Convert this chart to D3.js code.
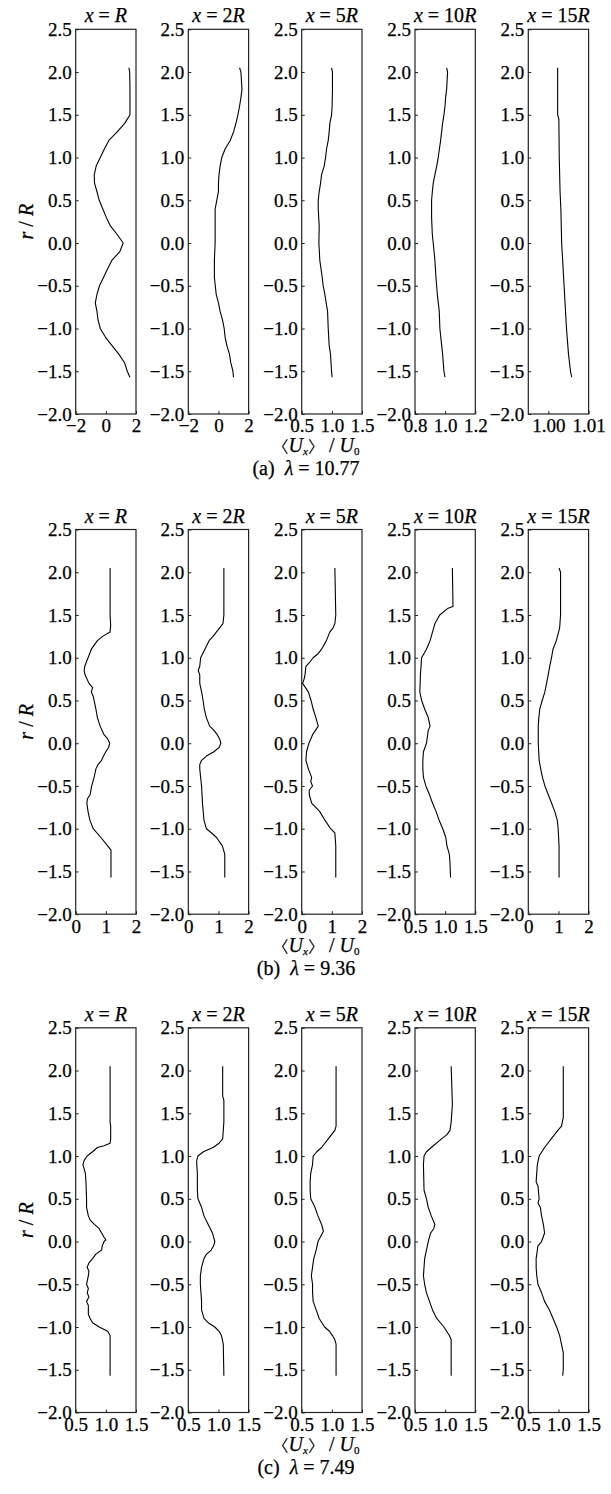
<!DOCTYPE html>
<html>
<head>
<meta charset="utf-8">
<script src="https://cdn.jsdelivr.net/npm/d3@7"></script>
<style>
  body { margin: 0; background: #fff; }
  svg text { font-family: "Liberation Serif", "Times New Roman", "DejaVu Serif", serif; fill: #000; stroke: #000; stroke-width: 0.25px; }
</style>
</head>
<body>
<div id="chart"></div>
<script>
// stations along the wake and the three tip speed ratios
const stations = ["R", "2R", "5R", "10R", "15R"];
const groupTags = ["(a)", "(b)", "(c)"];
const lambdas = ["10.77", "9.36", "7.49"];

// r/R axis, shared by every panel
const rDomain = [-2.0, 2.5];
const rTicks = [-2.0, -1.5, -1.0, -0.5, 0.0, 0.5, 1.0, 1.5, 2.0, 2.5];

// <Ux>/U0 axis for each panel
const uDomainsA = [[-2, 2], [-2, 2], [0.5, 1.5], [0.8, 1.2], [0.995, 1.01]];
const uTicksA = [[-2, 0, 2], [-2, 0, 2], [0.5, 1.0, 1.5], [0.8, 1.0, 1.2], [1.00, 1.01]];
const uFormatsA = ["d", "d", ".1f", ".1f", ".2f"];

const uDomainsB = [[0, 2], [0, 2], [0, 2], [0.5, 1.5], [0, 2]];
const uTicksB = [[0, 1, 2], [0, 1, 2], [0, 1, 2], [0.5, 1.0, 1.5], [0, 1, 2]];
const uFormatsB = ["d", "d", "d", ".1f", "d"];

const uDomainsC = [[0.5, 1.5], [0.5, 1.5], [0.5, 1.5], [0.5, 1.5], [0.5, 1.5]];
const uTicksC = [[0.5, 1.0, 1.5], [0.5, 1.0, 1.5], [0.5, 1.0, 1.5], [0.5, 1.0, 1.5], [0.5, 1.0, 1.5]];
const uFormatsC = [".1f", ".1f", ".1f", ".1f", ".1f"];

// profiles, [r/R, <Ux>/U0]
// (a) lambda = 10.77
const a1 = [[2.05,1.53],[2.0,1.58],[1.8,1.6],[1.5,1.6],[1.4,1.25],[1.3,0.75],[1.2,0.2],[1.1,-0.1],[1.0,-0.37],[0.9,-0.64],[0.8,-0.77],[0.7,-0.75],[0.6,-0.59],[0.5,-0.44],[0.4,-0.21],[0.3,0.03],[0.2,0.30],[0.1,0.75],[0.0,1.15],[-0.1,0.93],[-0.2,0.41],[-0.3,0.12],[-0.4,-0.15],[-0.5,-0.42],[-0.6,-0.59],[-0.7,-0.70],[-0.8,-0.59],[-0.9,-0.52],[-1.0,-0.37],[-1.1,-0.03],[-1.2,0.41],[-1.3,0.86],[-1.4,1.24],[-1.5,1.42],[-1.57,1.6]];
const a2 = [[2.05,1.40],[2.0,1.49],[1.8,1.56],[1.7,1.49],[1.6,1.40],[1.5,1.29],[1.4,1.16],[1.3,1.0],[1.2,0.78],[1.1,0.44],[1.0,0.22],[0.9,0.11],[0.8,0.04],[0.7,0.0],[0.6,0.0],[0.5,-0.11],[0.4,-0.22],[0.2,-0.22],[0.0,-0.22],[-0.2,-0.27],[-0.4,-0.27],[-0.6,-0.15],[-0.7,0.0],[-0.8,0.11],[-0.9,0.27],[-1.0,0.38],[-1.1,0.44],[-1.2,0.56],[-1.3,0.73],[-1.4,0.82],[-1.5,0.96],[-1.57,1.0]];
const a3 = [[2.05,0.995],[2.0,1.01],[1.8,1.01],[1.6,1.005],[1.5,0.995],[1.4,0.967],[1.3,0.956],[1.2,0.94],[1.1,0.912],[1.0,0.896],[0.9,0.873],[0.8,0.83],[0.7,0.813],[0.6,0.79],[0.5,0.774],[0.4,0.774],[0.2,0.79],[0.0,0.785],[-0.2,0.80],[-0.4,0.84],[-0.5,0.856],[-0.6,0.884],[-0.8,0.929],[-1.0,0.94],[-1.2,0.956],[-1.3,0.978],[-1.5,0.995],[-1.57,1.005]];
const a4 = [[2.05,1.01],[2.0,1.016],[1.8,1.01],[1.7,1.003],[1.6,0.999],[1.5,0.992],[1.4,0.983],[1.2,0.97],[1.0,0.954],[0.9,0.944],[0.8,0.932],[0.7,0.921],[0.6,0.915],[0.5,0.91],[0.3,0.91],[0.1,0.915],[0.0,0.921],[-0.2,0.932],[-0.4,0.939],[-0.6,0.948],[-0.8,0.961],[-1.0,0.965],[-1.2,0.977],[-1.3,0.983],[-1.5,0.992],[-1.57,0.999]];
const a5 = [[2.05,1.0023],[1.5,1.0023],[1.45,1.0026],[1.0,1.0027],[0.6,1.0029],[0.4,1.0031],[0.0,1.0033],[-0.5,1.0039],[-1.0,1.0045],[-1.3,1.005],[-1.5,1.0055],[-1.57,1.0058]];

// (b) lambda = 9.36
const b1 = [[2.05,1.14],[1.5,1.14],[1.38,1.16],[1.3,1.14],[1.25,0.89],[1.2,0.72],[1.1,0.52],[1.0,0.41],[0.9,0.30],[0.85,0.28],[0.8,0.31],[0.7,0.44],[0.65,0.56],[0.6,0.52],[0.55,0.58],[0.5,0.61],[0.4,0.67],[0.3,0.72],[0.2,0.81],[0.1,0.94],[0.05,1.06],[0.0,1.13],[-0.05,1.09],[-0.1,1.0],[-0.15,0.92],[-0.2,0.86],[-0.25,0.74],[-0.3,0.67],[-0.4,0.61],[-0.5,0.53],[-0.6,0.48],[-0.65,0.39],[-0.7,0.37],[-0.8,0.41],[-0.9,0.47],[-1.0,0.58],[-1.1,0.83],[-1.2,1.06],[-1.25,1.17],[-1.4,1.17],[-1.57,1.17]];
const b2 = [[2.05,1.18],[1.5,1.18],[1.4,1.15],[1.35,1.04],[1.3,0.93],[1.25,0.82],[1.2,0.69],[1.1,0.55],[1.0,0.41],[0.9,0.38],[0.85,0.33],[0.8,0.38],[0.7,0.38],[0.6,0.44],[0.5,0.49],[0.4,0.53],[0.3,0.60],[0.2,0.71],[0.15,0.85],[0.1,0.96],[0.05,1.04],[0.0,1.08],[-0.05,1.02],[-0.1,0.85],[-0.15,0.60],[-0.2,0.44],[-0.25,0.38],[-0.3,0.38],[-0.5,0.44],[-0.7,0.47],[-0.9,0.52],[-1.0,0.60],[-1.05,0.77],[-1.1,0.93],[-1.2,1.13],[-1.3,1.21],[-1.57,1.21]];
const b3 = [[2.05,1.10],[1.5,1.13],[1.4,1.10],[1.35,1.04],[1.3,0.93],[1.2,0.82],[1.1,0.66],[1.05,0.55],[1.0,0.38],[0.95,0.27],[0.9,0.14],[0.8,0.11],[0.75,0.08],[0.7,0.03],[0.6,0.22],[0.5,0.31],[0.4,0.38],[0.3,0.47],[0.2,0.55],[0.1,0.36],[0.0,0.24],[-0.1,0.16],[-0.2,0.14],[-0.3,0.22],[-0.4,0.33],[-0.45,0.30],[-0.5,0.36],[-0.55,0.25],[-0.6,0.25],[-0.7,0.33],[-0.8,0.60],[-0.9,0.77],[-1.0,0.96],[-1.05,1.10],[-1.2,1.13],[-1.57,1.13]];
const b4 = [[2.05,1.12],[1.6,1.13],[1.58,1.05],[1.5,0.91],[1.4,0.83],[1.3,0.79],[1.2,0.75],[1.1,0.69],[1.0,0.61],[0.8,0.59],[0.6,0.58],[0.5,0.61],[0.4,0.66],[0.3,0.72],[0.2,0.75],[0.15,0.72],[0.05,0.70],[0.0,0.69],[-0.1,0.64],[-0.2,0.63],[-0.3,0.63],[-0.4,0.64],[-0.5,0.68],[-0.6,0.74],[-0.7,0.79],[-0.8,0.85],[-0.9,0.90],[-1.0,0.96],[-1.1,1.01],[-1.2,1.03],[-1.3,1.07],[-1.4,1.08],[-1.57,1.09]];
const b5 = [[2.05,1.02],[2.0,1.07],[1.5,1.07],[1.35,1.04],[1.2,0.93],[1.1,0.82],[1.0,0.77],[0.9,0.71],[0.8,0.66],[0.6,0.55],[0.5,0.46],[0.4,0.38],[0.3,0.35],[0.2,0.33],[0.0,0.33],[-0.2,0.36],[-0.3,0.41],[-0.4,0.47],[-0.5,0.55],[-0.6,0.66],[-0.7,0.77],[-0.8,0.88],[-0.9,0.96],[-1.0,0.99],[-1.2,1.02],[-1.57,1.02]];

// (c) lambda = 7.49
const c1 = [[2.05,1.07],[1.4,1.07],[1.35,1.08],[1.2,1.08],[1.15,1.07],[1.12,0.97],[1.1,0.86],[1.05,0.78],[1.0,0.69],[0.95,0.64],[0.9,0.62],[0.85,0.64],[0.8,0.66],[0.7,0.67],[0.5,0.68],[0.4,0.68],[0.3,0.71],[0.25,0.74],[0.2,0.81],[0.15,0.89],[0.1,0.93],[0.05,0.97],[0.02,1.0],[0.0,0.97],[-0.05,0.94],[-0.1,0.93],[-0.15,0.83],[-0.2,0.78],[-0.25,0.72],[-0.3,0.69],[-0.35,0.72],[-0.4,0.71],[-0.5,0.68],[-0.55,0.71],[-0.6,0.69],[-0.65,0.72],[-0.7,0.68],[-0.75,0.71],[-0.8,0.71],[-0.85,0.71],[-0.9,0.74],[-0.95,0.78],[-1.0,0.89],[-1.05,1.03],[-1.1,1.07],[-1.57,1.07]];
const c2 = [[2.05,1.07],[1.7,1.07],[1.65,1.09],[1.4,1.09],[1.3,1.08],[1.2,1.07],[1.15,1.01],[1.1,0.91],[1.05,0.75],[1.0,0.66],[0.95,0.64],[0.9,0.64],[0.8,0.65],[0.6,0.65],[0.5,0.66],[0.45,0.69],[0.4,0.72],[0.3,0.76],[0.2,0.83],[0.1,0.90],[0.0,0.94],[-0.05,0.92],[-0.1,0.88],[-0.15,0.80],[-0.2,0.76],[-0.3,0.72],[-0.4,0.70],[-0.5,0.70],[-0.7,0.72],[-0.8,0.72],[-0.9,0.76],[-0.95,0.83],[-1.0,0.94],[-1.05,1.01],[-1.1,1.05],[-1.2,1.08],[-1.57,1.09]];
const c3 = [[2.05,1.07],[1.35,1.07],[1.3,1.05],[1.2,0.94],[1.1,0.83],[1.05,0.75],[1.0,0.69],[0.9,0.68],[0.8,0.65],[0.7,0.64],[0.6,0.64],[0.5,0.65],[0.4,0.72],[0.3,0.77],[0.2,0.83],[0.12,0.86],[0.0,0.77],[-0.1,0.74],[-0.2,0.70],[-0.3,0.68],[-0.4,0.66],[-0.5,0.68],[-0.6,0.68],[-0.7,0.69],[-0.8,0.74],[-0.9,0.79],[-1.0,0.88],[-1.05,0.96],[-1.1,1.01],[-1.15,1.05],[-1.2,1.07],[-1.57,1.07]];
const c4 = [[2.05,1.10],[1.6,1.12],[1.4,1.10],[1.3,1.08],[1.25,1.03],[1.2,0.94],[1.1,0.77],[1.05,0.69],[1.0,0.65],[0.9,0.64],[0.6,0.65],[0.5,0.69],[0.4,0.72],[0.3,0.77],[0.2,0.83],[0.15,0.81],[0.1,0.76],[0.0,0.72],[-0.1,0.69],[-0.2,0.66],[-0.4,0.64],[-0.5,0.66],[-0.6,0.69],[-0.7,0.74],[-0.8,0.79],[-0.9,0.86],[-1.0,0.98],[-1.1,1.07],[-1.15,1.10],[-1.57,1.10]];
const c5 = [[2.05,1.08],[1.45,1.08],[1.35,1.05],[1.3,0.99],[1.2,0.88],[1.1,0.77],[1.0,0.68],[0.9,0.65],[0.8,0.64],[0.7,0.63],[0.65,0.66],[0.5,0.68],[0.45,0.66],[0.4,0.70],[0.3,0.72],[0.2,0.75],[0.1,0.77],[0.0,0.72],[-0.05,0.66],[-0.1,0.65],[-0.2,0.63],[-0.3,0.63],[-0.4,0.64],[-0.5,0.66],[-0.6,0.72],[-0.7,0.77],[-0.8,0.85],[-0.9,0.91],[-1.0,0.97],[-1.1,1.02],[-1.2,1.05],[-1.3,1.08],[-1.5,1.08],[-1.57,1.07]];

const profiles = [[a1, a2, a3, a4, a5], [b1, b2, b3, b4, b5], [c1, c2, c3, c4, c5]];
const uDomains = [uDomainsA, uDomainsB, uDomainsC];
const uTicks = [uTicksA, uTicksB, uTicksC];
const uFormats = [uFormatsA, uFormatsB, uFormatsC];

// layout
const width = 611, height = 1494;
const groupTop = [29.3, 529.5, 1027.8];
const panelH = 384.7;
const panelLeft = [75.7, 188.3, 301.7, 415, 528.3];
const panelW = 60.3;
const fs = 19;
const serif = "'Liberation Serif', 'Times New Roman', 'DejaVu Serif', serif";

const svg = d3.select("#chart").append("svg")
    .attr("width", width)
    .attr("height", height)
    .attr("font-family", serif);

const line = d3.line();

function styleAxis(a) {
    a.attr("font-family", serif).attr("font-size", fs);
    a.select(".domain").remove();
    a.selectAll("text").style("font-family", serif).style("font-size", fs + "px");
    a.selectAll("line").attr("stroke", "#222");
}

groupTop.forEach((top, g) => {
    const gg = svg.append("g");
    const y = d3.scaleLinear().domain(rDomain).range([top + panelH, top]);

    stations.forEach((st, p) => {
        const left = panelLeft[p];
        const x = d3.scaleLinear().domain(uDomains[g][p]).range([left, left + panelW]);
        const pg = gg.append("g");

        // y axis, ticks point inward
        pg.append("g")
            .attr("transform", `translate(${left},0)`)
            .call(d3.axisLeft(y).tickValues(rTicks).tickFormat(d3.format(".1f"))
                .tickSizeInner(-3).tickSizeOuter(0).tickPadding(4))
            .call(styleAxis);

        // x axis
        pg.append("g")
            .attr("transform", `translate(0,${top + panelH})`)
            .call(d3.axisBottom(x).tickValues(uTicks[g][p]).tickFormat(d3.format(uFormats[g][p]))
                .tickSizeInner(-3).tickSizeOuter(0).tickPadding(5))
            .call(styleAxis);

        // frame
        pg.append("rect")
            .attr("x", left).attr("y", top)
            .attr("width", panelW).attr("height", panelH)
            .attr("fill", "none").attr("stroke", "#222").attr("stroke-width", 1.2);

        // profile
        pg.append("path")
            .datum(profiles[g][p])
            .attr("fill", "none")
            .attr("stroke", "#000")
            .attr("stroke-width", 1.1)
            .attr("stroke-linejoin", "round")
            .attr("d", line.x(d => x(d[1])).y(d => y(d[0])));

        // title  x = nR
        const t = pg.append("text")
            .attr("x", left + panelW / 2)
            .attr("y", top - 7)
            .attr("text-anchor", "middle")
            .style("font-family", serif)
            .style("font-size", (fs + 1) + "px");
        t.append("tspan").attr("font-style", "italic").text("x");
        t.append("tspan").text(" = " + st.replace("R", ""));
        t.append("tspan").attr("font-style", "italic").text("R");
    });

    // r / R
    const yl = gg.append("text")
        .attr("transform", `translate(33,${top + panelH / 2}) rotate(-90)`)
        .attr("text-anchor", "middle")
        .style("font-family", serif)
        .style("font-size", (fs + 1) + "px");
    yl.append("tspan").attr("font-style", "italic").text("r");
    yl.append("tspan").text(" / ");
    yl.append("tspan").attr("font-style", "italic").text("R");

    // <Ux> / U0
    const xl = gg.append("text")
        .attr("x", 316)
        .attr("y", top + panelH + 38)
        .attr("text-anchor", "middle")
        .style("font-family", serif)
        .style("font-size", (fs + 1) + "px");
    xl.append("tspan").style("font-family", "'Noto Sans CJK SC'").style("font-size", "16px").style("stroke-width", "0").text("\u3008");
    xl.append("tspan").attr("font-style", "italic").text("U");
    xl.append("tspan").attr("font-style", "italic").style("font-size", "11px").attr("dy", 3).text("x");
    xl.append("tspan").attr("dy", -3).style("font-family", "'Noto Sans CJK SC'").style("font-size", "16px").style("stroke-width", "0").text("\u3009");
    xl.append("tspan").text(" / ");
    xl.append("tspan").attr("font-style", "italic").text("U");
    xl.append("tspan").style("font-size", "11px").attr("dy", 3).text("0");

    // caption
    const cap = gg.append("text")
        .attr("x", 306)
        .attr("y", top + panelH + 61)
        .attr("text-anchor", "middle")
        .style("font-family", serif)
        .style("font-size", (fs + 1) + "px")
        .style("white-space", "pre");
    cap.append("tspan").text(groupTags[g] + "\u00a0\u00a0");
    cap.append("tspan").attr("font-style", "italic").text("\u03bb");
    cap.append("tspan").text(" = " + lambdas[g]);
});
</script>
</body>
</html>
